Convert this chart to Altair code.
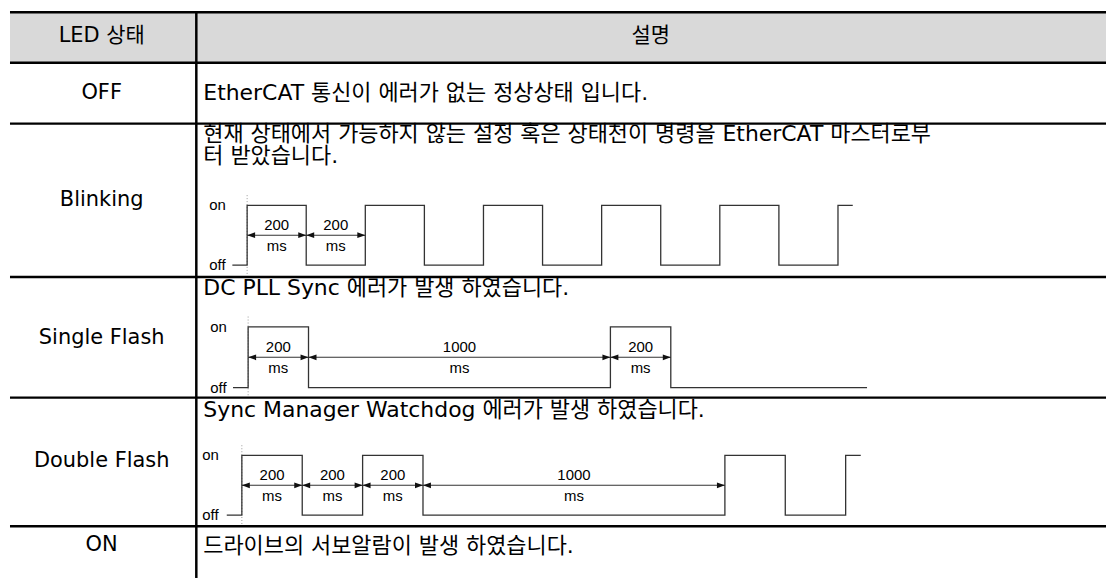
import altair as alt
import pandas as pd

# ---------------- table content ----------------
HEADER = ["LED 상태", "설명"]
STATES = ["OFF", "Blinking", "Single Flash", "Double Flash", "ON"]
DESCRIPTIONS = [
    ["EtherCAT 통신이 에러가 없는 정상상태 입니다."],
    ["현재 상태에서 가능하지 않는 설정 혹은 상태천이 명령을 EtherCAT 마스터로부",
     "터 받았습니다."],
    ["DC PLL Sync 에러가 발생 하였습니다."],
    ["Sync Manager Watchdog 에러가 발생 하였습니다."],
    ["드라이브의 서보알람이 발생 하였습니다."],
]

# ---------------- LED timing diagrams (ms) ----------------
LEVEL_NAMES = ["on", "off"]
LEVEL_VALUES = [1, 0]
UNIT = "ms"

BLINK_T = [-50, 0, 200, 400, 600, 800, 1000, 1200, 1400, 1600, 1800, 2000, 2050]
BLINK_L = [0, 1, 0, 1, 0, 1, 0, 1, 0, 1, 0, 1, 1]
BLINK_SPAN_START = [0, 200]
BLINK_SPAN_END = [200, 400]

SINGLE_T = [-50, 0, 200, 1200, 1400, 2050]
SINGLE_L = [0, 1, 0, 1, 0, 0]
SINGLE_SPAN_START = [0, 200, 1200]
SINGLE_SPAN_END = [200, 1200, 1400]

DOUBLE_T = [-50, 0, 200, 400, 600, 1600, 1800, 2000, 2050]
DOUBLE_L = [0, 1, 0, 1, 0, 1, 0, 1, 1]
DOUBLE_SPAN_START = [0, 200, 400, 600]
DOUBLE_SPAN_END = [200, 400, 600, 1600]

# ---------------- layout / style ----------------
FONT_TXT = "DejaVu Sans, Noto Sans CJK KR"
FONT_WAVE = "Liberation Sans"
W = 1100
COL_X = 187
LEFT_CX = 92
DESC_X = 194
ROW_H = [52, 61, 154, 121, 129, 52]
LINE_H = 23
TXT_SIZE = 22
LAB_SIZE = 21
WAVE_SIZE = 15
LEFT_HEAD = "M0,0L1,-0.36L1,0.36Z"
RIGHT_HEAD = "M0,0L-1,-0.36L-1,0.36Z"

one = pd.DataFrame({"k": [0]})


def frame_layers(h, top_y=0.0, header=False):
    layers = []
    if header:
        layers.append(alt.Chart(one).mark_rect(color="#d9d9d9").encode(
            x=alt.value(0), x2=alt.value(W), y=alt.value(top_y), y2=alt.value(h)))
    layers.append(alt.Chart(one).mark_rule(color="black", strokeWidth=2.5).encode(
        x=alt.value(0), x2=alt.value(W), y=alt.value(top_y)))
    layers.append(alt.Chart(one).mark_rule(color="black", strokeWidth=2.5).encode(
        x=alt.value(COL_X), y=alt.value(0), y2=alt.value(h)))
    return layers


def text_layer(txt, x, y, size, align="center"):
    return alt.Chart(pd.DataFrame({"txt": [txt]})).mark_text(
        font=FONT_TXT, fontSize=size, align=align, baseline="middle", color="black"
    ).encode(x=alt.value(x), y=alt.value(y), text="txt:N")


def wave_layers(times, levels, starts, ends, x0, k, low, high, lab_x):
    xs = alt.Scale(domain=[-x0 / k, (W - x0) / k], nice=False, zero=False)
    ys = alt.Scale(domain=[0, 1], range=[low, high], nice=False, zero=False)

    wave_df = pd.DataFrame({"t": times, "lvl": levels})
    span_df = pd.DataFrame({"t0": starts, "t1": ends})
    span_df["mid"] = (span_df["t0"] + span_df["t1"]) / 2
    span_df["dur"] = (span_df["t1"] - span_df["t0"]).astype(int).astype(str)
    span_df["unit"] = UNIT
    lvl_df = pd.DataFrame({"lab": LEVEL_NAMES, "lvl": LEVEL_VALUES})

    dotted = alt.Chart(pd.DataFrame({"t": [0]})).mark_rule(
        color="#9a9a9a", strokeDash=[1, 2], strokeWidth=1
    ).encode(
        x=alt.X("t:Q", scale=xs, axis=None),
        y=alt.YDatum(1.17, scale=ys, axis=None),
        y2=alt.Y2Datum(-0.15),
    )
    wave = alt.Chart(wave_df).mark_line(
        interpolate="step-after", color="#333333", strokeWidth=1.3
    ).encode(
        x=alt.X("t:Q", scale=xs, axis=None),
        y=alt.Y("lvl:Q", scale=ys, axis=None),
    )
    levels_txt = alt.Chart(lvl_df).mark_text(
        font=FONT_WAVE, fontSize=WAVE_SIZE, align="left", baseline="middle", color="black"
    ).encode(x=alt.value(lab_x), y=alt.Y("lvl:Q", scale=ys, axis=None), text="lab:N")
    arrows = alt.Chart(span_df).mark_rule(color="#333333", strokeWidth=1.1).encode(
        x=alt.X("t0:Q", scale=xs, axis=None), x2="t1:Q",
        y=alt.YDatum(0.5, scale=ys, axis=None),
    )
    heads_l = alt.Chart(span_df).mark_point(
        shape=LEFT_HEAD, size=256, filled=True, color="#111111", opacity=1, strokeWidth=0
    ).encode(x=alt.X("t0:Q", scale=xs, axis=None), y=alt.YDatum(0.5, scale=ys, axis=None))
    heads_r = alt.Chart(span_df).mark_point(
        shape=RIGHT_HEAD, size=256, filled=True, color="#111111", opacity=1, strokeWidth=0
    ).encode(x=alt.X("t1:Q", scale=xs, axis=None), y=alt.YDatum(0.5, scale=ys, axis=None))
    dur_txt = alt.Chart(span_df).mark_text(
        font=FONT_WAVE, fontSize=WAVE_SIZE, baseline="middle", color="black"
    ).encode(x=alt.X("mid:Q", scale=xs, axis=None), y=alt.YDatum(0.67, scale=ys, axis=None),
             text="dur:N")
    unit_txt = alt.Chart(span_df).mark_text(
        font=FONT_WAVE, fontSize=WAVE_SIZE, baseline="middle", color="black"
    ).encode(x=alt.X("mid:Q", scale=xs, axis=None), y=alt.YDatum(0.32, scale=ys, axis=None),
             text="unit:N")
    return [dotted, wave, levels_txt, arrows, heads_l, heads_r, dur_txt, unit_txt]


rows = []

# header
h = ROW_H[0]
rows.append(alt.layer(
    *frame_layers(h, top_y=1.25, header=True),
    text_layer(HEADER[0], LEFT_CX, 25, LAB_SIZE),
    text_layer(HEADER[1], 643, 25, LAB_SIZE),
).properties(width=W, height=h))

# OFF
h = ROW_H[1]
rows.append(alt.layer(
    *frame_layers(h),
    text_layer(STATES[0], LEFT_CX, 30, LAB_SIZE),
    text_layer(DESCRIPTIONS[0][0], DESC_X, 30, TXT_SIZE, "left"),
).properties(width=W, height=h))

# Blinking
h = ROW_H[2]
rows.append(alt.layer(
    *frame_layers(h),
    text_layer(STATES[1], LEFT_CX, 77, LAB_SIZE),
    *[text_layer(t, DESC_X, 10 + i * LINE_H, TXT_SIZE, "left") for i, t in enumerate(DESCRIPTIONS[1])],
    *wave_layers(BLINK_T, BLINK_L, BLINK_SPAN_START, BLINK_SPAN_END,
                 x0=238, k=0.2965, low=142, high=82, lab_x=200),
).properties(width=W, height=h))

# Single Flash
h = ROW_H[3]
rows.append(alt.layer(
    *frame_layers(h),
    text_layer(STATES[2], LEFT_CX, 61, LAB_SIZE),
    text_layer(DESCRIPTIONS[2][0], DESC_X, 11, TXT_SIZE, "left"),
    *wave_layers(SINGLE_T, SINGLE_L, SINGLE_SPAN_START, SINGLE_SPAN_END,
                 x0=239, k=0.303, low=111, high=50, lab_x=201),
).properties(width=W, height=h))

# Double Flash
h = ROW_H[4]
rows.append(alt.layer(
    *frame_layers(h),
    text_layer(STATES[3], LEFT_CX, 64, LAB_SIZE),
    text_layer(DESCRIPTIONS[3][0], DESC_X, 12, TXT_SIZE, "left"),
    *wave_layers(DOUBLE_T, DOUBLE_L, DOUBLE_SPAN_START, DOUBLE_SPAN_END,
                 x0=232.7, k=0.303, low=118, high=58, lab_x=193),
).properties(width=W, height=h))

# ON
h = ROW_H[5]
rows.append(alt.layer(
    *frame_layers(h),
    text_layer(STATES[4], LEFT_CX, 19, LAB_SIZE),
    text_layer(DESCRIPTIONS[4][0], DESC_X, 20, TXT_SIZE, "left"),
).properties(width=W, height=h))

chart = alt.vconcat(*rows, spacing=0, bounds="flush").properties(
    padding=0
).configure_view(stroke=None)

chart.save("out.html", embed_options={"renderer": "svg", "actions": False})
